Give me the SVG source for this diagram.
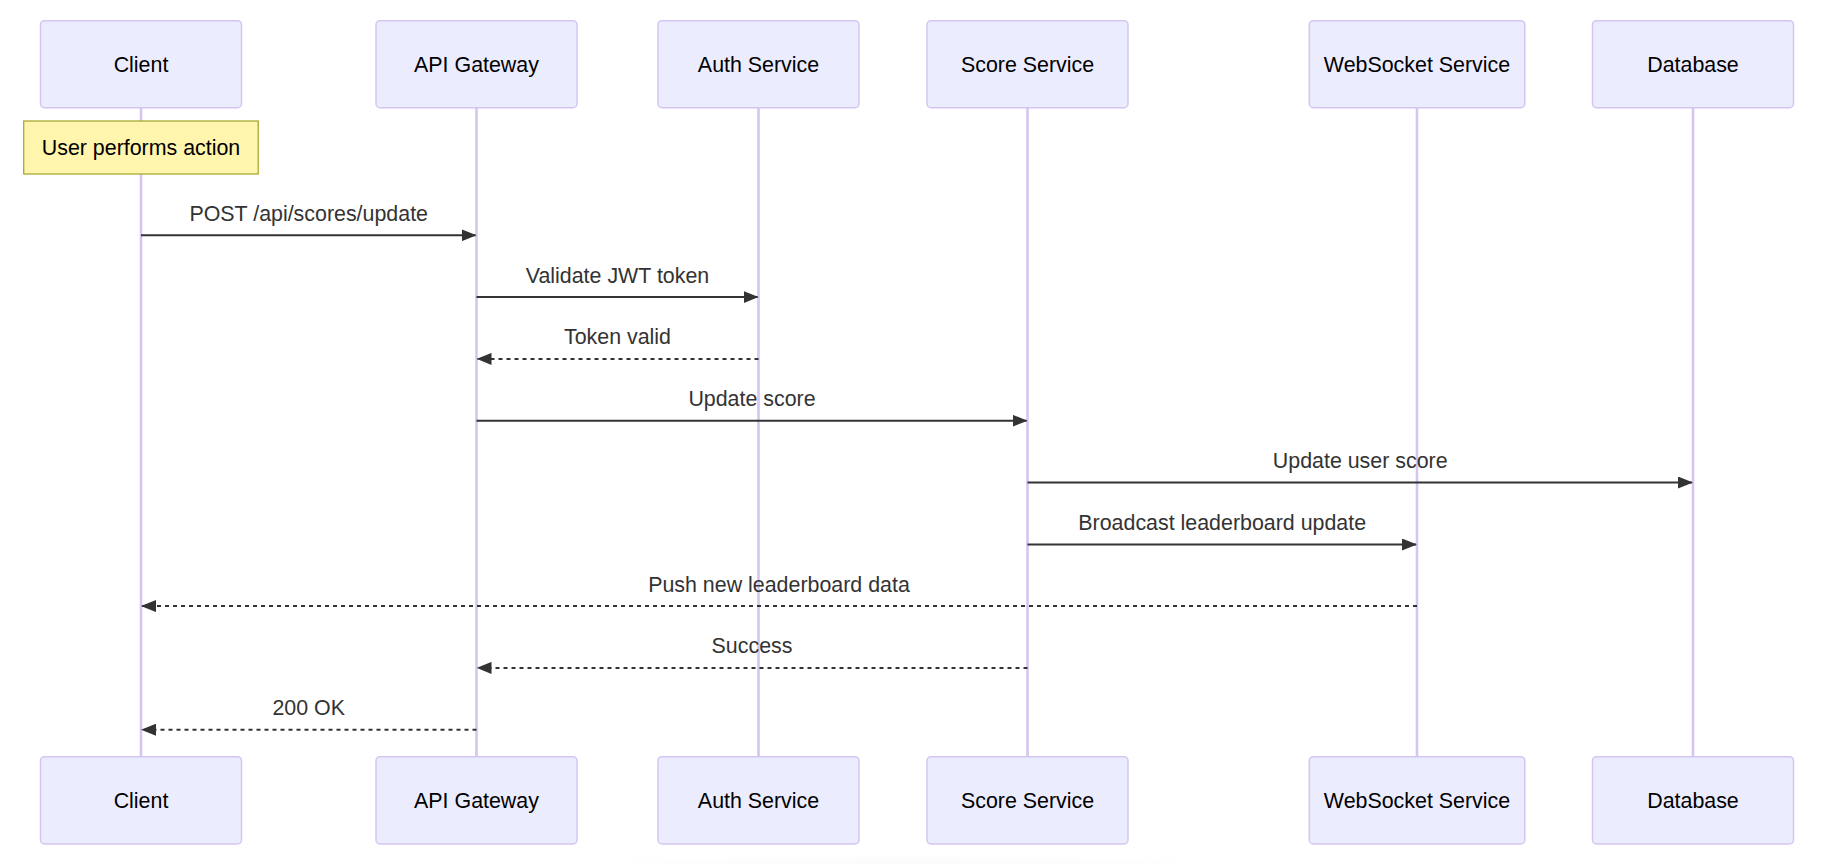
<svg xmlns="http://www.w3.org/2000/svg" width="1825" height="864" viewBox="0 0 1825 864">
  <style>
    .actor { fill: #ECECFF; stroke: #D4C6F0; stroke-width: 1.5; }
    .actor-text { font-family: "Liberation Sans", Arial, sans-serif; font-size: 21.4px; fill: #000; text-anchor: middle; }
    .lifeline { stroke: #D4C6F0; stroke-width: 2.6; fill: none; }
    .note { fill: #FFF5AD; stroke: #AAAA33; stroke-width: 1.3; }
    .note-text { font-family: "Liberation Sans", Arial, sans-serif; font-size: 21.4px; fill: #000; text-anchor: middle; }
    .msg { stroke: #333; stroke-width: 2; fill: none; marker-end: url(#arrow); }
    .dashed { stroke-dasharray: 4 4; }
    .msg-text { font-family: "Liberation Sans", Arial, sans-serif; font-size: 21.4px; fill: #333; text-anchor: middle; }
  </style>
  <defs>
    <marker id="arrow" viewBox="0 0 15 12" refX="14" refY="6" markerWidth="15" markerHeight="12" markerUnits="userSpaceOnUse" orient="auto">
      <path d="M0,0 L15,6 L0,12 z" fill="#333"/>
    </marker>
    <radialGradient id="shadow" cx="0.5" cy="0.5" r="0.5">
      <stop offset="0" stop-color="#e6e6e6" stop-opacity="1"/>
      <stop offset="1" stop-color="#ffffff" stop-opacity="0"/>
    </radialGradient>
  </defs>
  <rect width="1825" height="864" fill="#ffffff"/>
  <ellipse cx="905" cy="884" rx="480" ry="36" fill="url(#shadow)"/>

  <g id="lifelines">
    <line class="lifeline" x1="141" y1="107.7" x2="141" y2="756.7"/>
    <line class="lifeline" x1="476.5" y1="107.7" x2="476.5" y2="756.7"/>
    <line class="lifeline" x1="758.5" y1="107.7" x2="758.5" y2="756.7"/>
    <line class="lifeline" x1="1027.5" y1="107.7" x2="1027.5" y2="756.7"/>
    <line class="lifeline" x1="1417" y1="107.7" x2="1417" y2="756.7"/>
    <line class="lifeline" x1="1693" y1="107.7" x2="1693" y2="756.7"/>
  </g>

  <g id="client">
    <rect class="actor" x="40.5" y="20.7" width="201" height="87" rx="4"/>
    <text class="actor-text" x="141" y="71.7">Client</text>
    <rect class="actor" x="40.5" y="756.7" width="201" height="87.3" rx="4"/>
    <text class="actor-text" x="141" y="808">Client</text>
  </g>
  <g id="api-gateway">
    <rect class="actor" x="376" y="20.7" width="201" height="87" rx="4"/>
    <text class="actor-text" x="476.5" y="71.7">API Gateway</text>
    <rect class="actor" x="376" y="756.7" width="201" height="87.3" rx="4"/>
    <text class="actor-text" x="476.5" y="808">API Gateway</text>
  </g>
  <g id="auth-service">
    <rect class="actor" x="658" y="20.7" width="201" height="87" rx="4"/>
    <text class="actor-text" x="758.5" y="71.7">Auth Service</text>
    <rect class="actor" x="658" y="756.7" width="201" height="87.3" rx="4"/>
    <text class="actor-text" x="758.5" y="808">Auth Service</text>
  </g>
  <g id="score-service">
    <rect class="actor" x="927" y="20.7" width="201" height="87" rx="4"/>
    <text class="actor-text" x="1027.5" y="71.7">Score Service</text>
    <rect class="actor" x="927" y="756.7" width="201" height="87.3" rx="4"/>
    <text class="actor-text" x="1027.5" y="808">Score Service</text>
  </g>
  <g id="websocket-service">
    <rect class="actor" x="1309.3" y="20.7" width="215.5" height="87" rx="4"/>
    <text class="actor-text" x="1417" y="71.7">WebSocket Service</text>
    <rect class="actor" x="1309.3" y="756.7" width="215.5" height="87.3" rx="4"/>
    <text class="actor-text" x="1417" y="808">WebSocket Service</text>
  </g>
  <g id="database">
    <rect class="actor" x="1592.5" y="20.7" width="201" height="87" rx="4"/>
    <text class="actor-text" x="1693" y="71.7">Database</text>
    <rect class="actor" x="1592.5" y="756.7" width="201" height="87.3" rx="4"/>
    <text class="actor-text" x="1693" y="808">Database</text>
  </g>

  <g id="note-user-action">
    <rect class="note" x="23.7" y="121" width="234.5" height="53"/>
    <text class="note-text" x="141" y="155">User performs action</text>
  </g>

  <g id="connectors">
    <line class="msg" x1="141" y1="235.3" x2="475.5" y2="235.3"/>
    <text class="msg-text" x="308.7" y="220.8">POST /api/scores/update</text>

    <line class="msg" x1="476.5" y1="297.1" x2="757.5" y2="297.1"/>
    <text class="msg-text" x="617.5" y="282.6">Validate JWT token</text>

    <line class="msg dashed" x1="758.5" y1="358.9" x2="477.5" y2="358.9"/>
    <text class="msg-text" x="617.5" y="344.4">Token valid</text>

    <line class="msg" x1="476.5" y1="420.7" x2="1026.5" y2="420.7"/>
    <text class="msg-text" x="752" y="406.2">Update score</text>

    <line class="msg" x1="1027.5" y1="482.5" x2="1692" y2="482.5"/>
    <text class="msg-text" x="1360.2" y="468">Update user score</text>

    <line class="msg" x1="1027.5" y1="544.5" x2="1416" y2="544.5"/>
    <text class="msg-text" x="1222.2" y="530">Broadcast leaderboard update</text>

    <line class="msg dashed" x1="1417" y1="606.1" x2="142" y2="606.1"/>
    <text class="msg-text" x="779" y="591.6">Push new leaderboard data</text>

    <line class="msg dashed" x1="1027.5" y1="667.9" x2="477.5" y2="667.9"/>
    <text class="msg-text" x="752" y="653.4">Success</text>

    <line class="msg dashed" x1="476.5" y1="729.7" x2="142" y2="729.7"/>
    <text class="msg-text" x="308.7" y="715.2">200 OK</text>
  </g>
</svg>
